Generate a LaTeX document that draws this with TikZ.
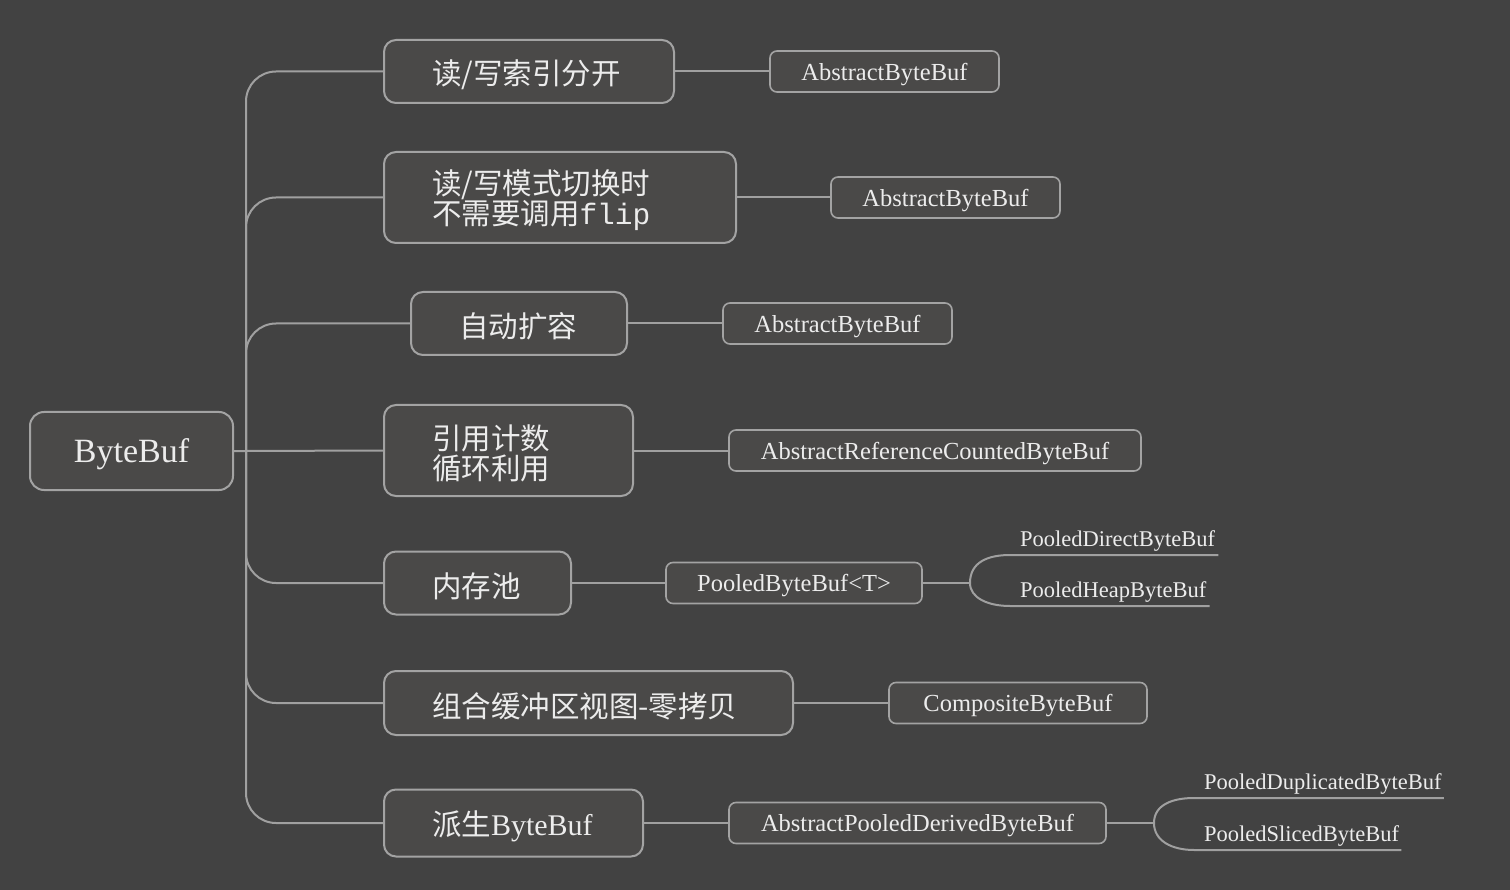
\documentclass[tikz,border=0pt]{standalone}
\usepackage{fontspec}
\setmainfont{Liberation Serif}
\newfontfamily\cjkfont{Noto Sans CJK SC}
\newfontfamily\monofnt{Liberation Mono}
\definecolor{bgc}{HTML}{424242}
\definecolor{boxfill}{HTML}{4A4948}
\definecolor{bord}{HTML}{A3A3A3}
\definecolor{txt}{HTML}{ECECEC}
\definecolor{linec}{HTML}{A0A0A0}
\newcommand\dn[1]{\raisebox{-3pt}[\height][\depth]{#1}}
\begin{document}
\begin{tikzpicture}[x=1pt,y=-1pt,
  rootbox/.style={draw=bord, fill=boxfill, rounded corners=14, line width=2, text=txt,
    font=\rmfamily\fontsize{34}{36}\selectfont, minimum width=203, minimum height=78, inner sep=0},
  branch/.style={draw=bord, fill=boxfill, rounded corners=12, line width=2, text=txt,
    font=\cjkfont\fontsize{29.5}{30}\selectfont, inner xsep=48, inner ysep=0, align=left},
  leaf/.style={draw=bord, fill=boxfill, rounded corners=7, line width=1.6, text=txt,
    font=\rmfamily\fontsize{24.5}{26}\selectfont, minimum height=41, inner sep=0},
  sub/.style={text=txt, font=\rmfamily\fontsize{22.5}{24}\selectfont, inner xsep=10, inner ysep=3, anchor=south west},
  conn/.style={draw=linec, line width=2},
  trunk/.style={conn, rounded corners=30}]
\useasboundingbox (0,0) rectangle (1510,890);
\fill[bgc] (0,0) rectangle (1510,890);

% root
\node[rootbox] (root) at (131.5,451) {\dn{ByteBuf}};
\coordinate (t) at (246,451);

% branches
\node[branch, text width=194, minimum height=63] (b1) at (529,71.5) {\dn{读/写索引分开}};
\node[branch, text width=256, minimum height=91] (b2) at (560,197.5) {\dn{读/写模式切换时}\\\dn{不需要调用{\monofnt flip}}};
\node[branch, text width=120, minimum height=63] (b3) at (519,323.5) {\dn{自动扩容}};
\node[branch, text width=153, minimum height=91] (b4) at (508.5,450.5) {\dn{引用计数}\\\dn{循环利用}};
\node[branch, text width=91, minimum height=63] (b5) at (477.5,583) {\dn{内存池}};
\node[branch, text width=313, minimum height=64] (b6) at (588.5,703) {\dn{组合缓冲区视图-零拷贝}};
\node[branch, text width=163, minimum height=67] (b7) at (513.5,823) {\dn{派生{\rmfamily\fontsize{30}{30}\selectfont ByteBuf}}};

% leaves
\node[leaf, minimum width=229] (l1) at (884.5,71.5) {\dn{AbstractByteBuf}};
\node[leaf, minimum width=229] (l2) at (945.5,197.5) {\dn{AbstractByteBuf}};
\node[leaf, minimum width=229] (l3) at (837.5,323.5) {\dn{AbstractByteBuf}};
\node[leaf, minimum width=412] (l4) at (935,450.5) {\dn{AbstractReferenceCountedByteBuf}};
\node[leaf, minimum width=256] (l5) at (794,583) {\dn{PooledByteBuf<T>}};
\node[leaf, minimum width=258] (l6) at (1018,703) {\dn{CompositeByteBuf}};
\node[leaf, minimum width=377] (l7) at (917.5,823) {\dn{AbstractPooledDerivedByteBuf}};

% sub leaves
\node[sub] (s1) at (1010,555) {PooledDirectByteBuf};
\node[sub] (s2) at (1010,606) {PooledHeapByteBuf};
\node[sub] (s3) at (1194,798) {PooledDuplicatedByteBuf};
\node[sub] (s4) at (1194,850) {PooledSlicedByteBuf};
\coordinate (f5) at (970,583);
\coordinate (f7) at (1154,823);

% trunk connectors
\draw[conn] (root.east) -- (t) -- (b4.west);
\draw[trunk] (t) |- (b1.west);
\draw[trunk] (t) |- (b2.west);
\draw[trunk] (t) |- (b3.west);
\draw[trunk] (t) |- (b5.west);
\draw[trunk] (t) |- (b6.west);
\draw[trunk] (t) |- (b7.west);

% branch to leaf
\draw[conn] (b1.east) -- (l1.west);
\draw[conn] (b2.east) -- (l2.west);
\draw[conn] (b3.east) -- (l3.west);
\draw[conn] (b4.east) -- (l4.west);
\draw[conn] (b5.east) -- (l5.west);
\draw[conn] (b6.east) -- (l6.west);
\draw[conn] (b7.east) -- (l7.west);

% forks
\draw[conn] (l5.east) -- (f5);
\draw[conn] (f5) .. controls (970,562) and (988,555) .. (s1.south west) -- ([xshift=-7]s1.south east);
\draw[conn] (f5) .. controls (970,598) and (988,606) .. (s2.south west) -- ([xshift=-7]s2.south east);
\draw[conn] (l7.east) -- (f7);
\draw[conn] (f7) .. controls (1154,805) and (1172,798) .. (s3.south west) -- ([xshift=-8]s3.south east);
\draw[conn] (f7) .. controls (1154,841) and (1172,850) .. (s4.south west) -- ([xshift=-8]s4.south east);
\end{tikzpicture}
\end{document}
